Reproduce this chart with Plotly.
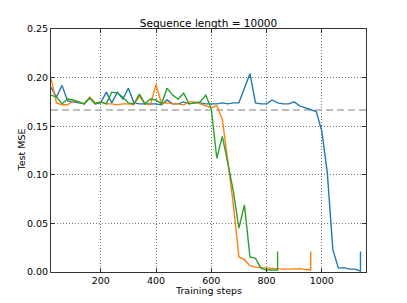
import plotly.graph_objects as go

blue_steps = list(range(20, 1141, 20)) + [1140]
blue_mse = [0.190, 0.180, 0.192, 0.176, 0.175, 0.174, 0.173, 0.179, 0.173, 0.174,
            0.185, 0.174, 0.185, 0.178, 0.189, 0.174, 0.173, 0.173, 0.173, 0.173,
            0.172, 0.177, 0.173, 0.173, 0.175, 0.173, 0.174, 0.174, 0.173, 0.173,
            0.173, 0.174, 0.173, 0.174, 0.174, 0.189, 0.204, 0.174, 0.173, 0.173,
            0.177, 0.174, 0.173, 0.173, 0.175, 0.171, 0.169, 0.167, 0.165, 0.145,
            0.102, 0.023, 0.004, 0.0045, 0.003, 0.003, 0.001, 0.021]

orange_steps = list(range(20, 961, 20)) + [960]
orange_mse = [0.199, 0.174, 0.172, 0.172, 0.176, 0.175, 0.173, 0.180, 0.174, 0.175,
              0.173, 0.173, 0.172, 0.173, 0.173, 0.172, 0.181, 0.173, 0.172, 0.193,
              0.173, 0.174, 0.173, 0.173, 0.172, 0.175, 0.175, 0.173, 0.171, 0.169,
              0.171, 0.157, 0.114, 0.069, 0.0155, 0.0127, 0.0065, 0.005, 0.0045, 0.004,
              0.0035, 0.003, 0.003, 0.003, 0.003, 0.0035, 0.0025, 0.002, 0.021]

green_steps = list(range(20, 841, 20)) + [840]
green_mse = [0.182, 0.180, 0.173, 0.178, 0.177, 0.175, 0.173, 0.179, 0.173, 0.175,
             0.173, 0.185, 0.184, 0.180, 0.174, 0.173, 0.183, 0.173, 0.178, 0.177,
             0.173, 0.189, 0.182, 0.178, 0.184, 0.173, 0.174, 0.175, 0.182, 0.168,
             0.117, 0.1395, 0.112, 0.083, 0.045, 0.069, 0.0155, 0.014, 0.004, 0.002,
             0.002, 0.002, 0.021]

baseline = 1 / 6
x_range = [20, 1160]
y_range = [0, 0.25]
x_ticks = [200, 400, 600, 800, 1000]
y_ticks = [0.00, 0.05, 0.10, 0.15, 0.20, 0.25]

FONT = "DejaVu Sans"
# page body has an 8px default margin, so the figure is sized/offset to compensate
W, H = 399, 295
ML, MR, MT, MB = 43, 41, 21, 31
PW, PH = W - ML - MR, H - MT - MB

fig = go.Figure()
fig.add_trace(go.Scatter(x=x_range, y=[baseline, baseline], mode="lines",
                         line=dict(color="rgb(170,170,170)", width=1.5, dash="7px,4px"),
                         hoverinfo="skip"))
for xs, ys, c in [(blue_steps, blue_mse, "#1f77b4"),
                  (orange_steps, orange_mse, "#ff7f0e"),
                  (green_steps, green_mse, "#2ca02c")]:
    fig.add_trace(go.Scatter(x=xs, y=ys, mode="lines", line=dict(color=c, width=1.4)))

axis_common = dict(showline=True, linecolor="#333", linewidth=1, mirror="ticks",
                   ticks="inside", ticklen=4, tickcolor="#333",
                   showgrid=True, gridcolor="rgba(0,0,0,0.55)", griddash="1px,2px", gridwidth=1,
                   zeroline=False, automargin=False,
                   tickfont=dict(family=FONT, size=9.5, color="#000"))

fig.update_layout(
    width=W, height=H,
    margin=dict(l=ML, r=MR, t=MT, b=MB),
    paper_bgcolor="white", plot_bgcolor="white",
    showlegend=False,
    title=dict(text="Sequence length = 10000", x=0.5, xanchor="center", xref="paper",
               yref="container", y=1 - 19 / H, yanchor="bottom",
               font=dict(family=FONT, size=10.5, color="#000")),
    annotations=[
        dict(text="Training steps", xref="paper", yref="paper", x=0.5, y=-18.5 / PH,
             xanchor="center", yanchor="middle", showarrow=False,
             font=dict(family=FONT, size=9.5, color="#000")),
        dict(text="Test MSE", xref="paper", yref="paper", x=-30 / PW, y=0.5,
             xanchor="center", yanchor="middle", showarrow=False, textangle=-90,
             font=dict(family=FONT, size=9.5, color="#000")),
    ],
)
fig.update_xaxes(range=x_range, tickvals=x_ticks, **axis_common)
fig.update_yaxes(range=y_range, tickvals=y_ticks, tickformat=".2f", **axis_common)

fig.write_html("out.html")
